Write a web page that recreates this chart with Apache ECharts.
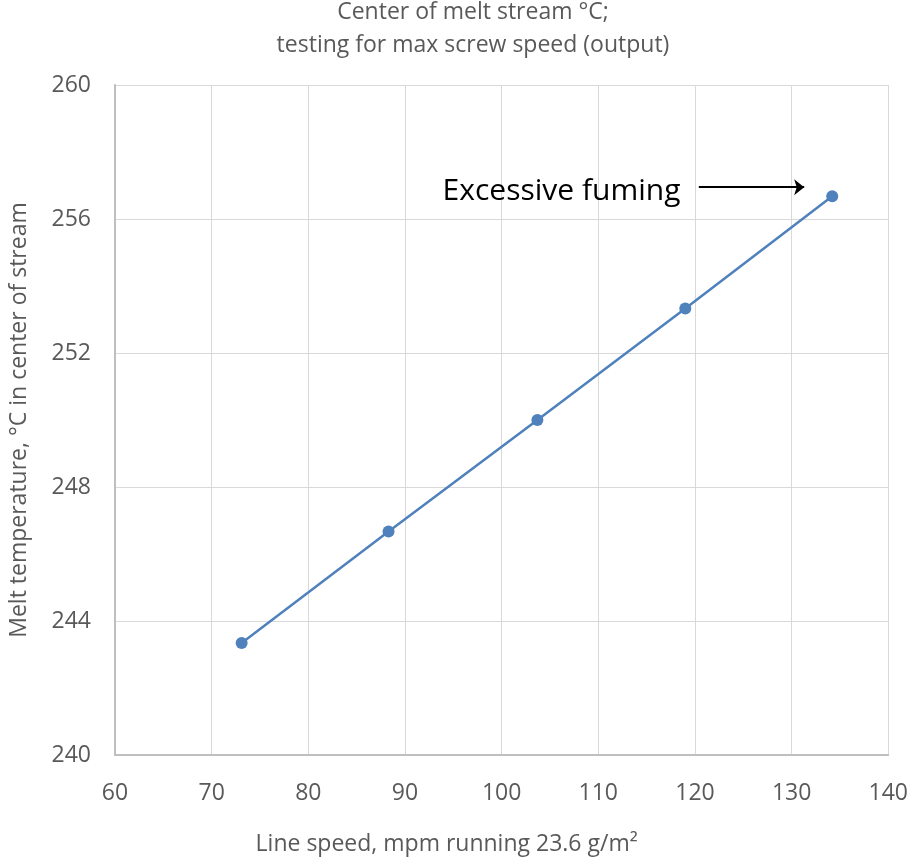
<!DOCTYPE html>
<html><head><meta charset="utf-8">
<script src="https://cdn.jsdelivr.net/npm/echarts@6/dist/echarts.min.js"></script>
<style>html,body{margin:0;padding:0;background:#fff}#c{width:911px;height:861px}</style>
</head><body><div id="c"></div>
<script>
const lineSpeed = [73.1, 88.3, 103.7, 119.0, 134.2];
const meltTemp = [243.34, 246.67, 250.0, 253.33, 256.68];
const xTicks = [60, 140, 10];
const yTicks = [240, 260, 4];
const annotationText = 'Excessive fuming';
const annotationPos = [106.2, 256.83];
const arrowFrom = [120.4, 256.95];
const arrowTo = [131.3, 256.95];

const font = "'Open Sans', sans-serif";
const chart = echarts.init(document.getElementById('c'));
chart.setOption({
  animation: false,
  title: {
    text: 'Center of melt stream °C;\ntesting for max screw speed (output)',
    left: 468, textAlign: 'center', top: -9,
    textStyle: { fontFamily: font, fontSize: 23, fontWeight: 'normal', color: '#595959', lineHeight: 33 }
  },
  grid: { left: 115, right: 22, top: 85, bottom: 101 },
  xAxis: {
    type: 'value', min: xTicks[0], max: xTicks[1], interval: xTicks[2],
    name: 'Line speed, mpm running 23.6 g/m²', nameLocation: 'middle', nameGap: 78,
    nameTextStyle: { fontFamily: font, fontSize: 23, color: '#595959', padding: [0, 110, 0, 0] },
    axisLine: { lineStyle: { color: '#bfbfbf', width: 2 } },
    axisTick: { show: false },
    axisLabel: { fontFamily: font, fontSize: 23, color: '#595959', margin: 27 },
    splitLine: { lineStyle: { color: '#d9d9d9' } }
  },
  yAxis: {
    type: 'value', min: yTicks[0], max: yTicks[1], interval: yTicks[2],
    name: 'Melt temperature, °C in center of stream', nameLocation: 'middle', nameGap: 84,
    nameTextStyle: { fontFamily: font, fontSize: 23, color: '#595959' },
    axisLine: { show: true, lineStyle: { color: '#bfbfbf', width: 2 } },
    axisTick: { show: false },
    axisLabel: { fontFamily: font, fontSize: 23, color: '#595959', margin: 24 },
    splitLine: { lineStyle: { color: '#d9d9d9' } }
  },
  series: [{
    type: 'line',
    data: lineSpeed.map((x, i) => [x, meltTemp[i]]),
    symbol: 'circle', symbolSize: 12,
    lineStyle: { color: '#4f81bd', width: 2.5 },
    itemStyle: { color: '#4f81bd' },
    markPoint: {
      symbol: 'circle', symbolSize: 0,
      label: { show: true, formatter: annotationText, fontFamily: font, fontSize: 30, color: '#000', position: 'inside' },
      data: [{ coord: annotationPos }]
    },
    markLine: {
      silent: true, symbol: ['none', 'arrow'], symbolSize: [12, 10],
      label: { show: false },
      lineStyle: { color: '#000', width: 2.2, type: 'solid' },
      data: [[{ coord: arrowFrom }, { coord: arrowTo }]]
    }
  }]
});
</script></body></html>
